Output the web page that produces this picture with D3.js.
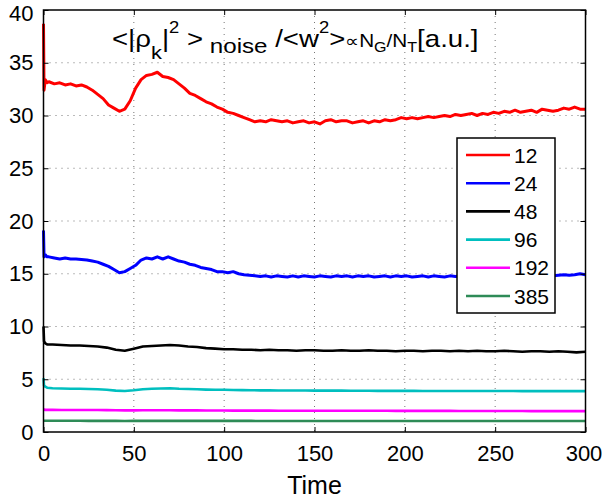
<!DOCTYPE html>
<html>
<head>
<meta charset="utf-8">
<script src="https://cdn.jsdelivr.net/npm/d3@7"></script>
<style>
  body { margin: 0; background: #fff; }
  text { font-family: "Liberation Sans", Arial, sans-serif; }
</style>
</head>
<body>
<script>
// sample times: a few points for the initial spike, then regular steps
const timeFine = [0, 0.3, 1, 2].concat(d3.range(3, 301, 3));
const timeCoarse = [0, 0.3, 1, 2].concat(d3.range(5, 301, 5));

const seriesNames = ["12", "24", "48", "96", "192", "385"];
const seriesColors = ["#ff0000", "#0000ff", "#000000", "#00bfbf", "#ff00ff", "#2e8b57"];

const vals12 = [38.7, 32.4, 33.4, 33.1,
  33.2, 33.0, 33.1, 32.9, 33.0, 32.8, 32.9, 32.7, 32.4, 32.0,
  31.6, 31.0, 30.7, 30.4, 30.6, 31.4, 32.6, 33.4, 33.8, 33.9,
  34.1, 33.7, 33.6, 33.4, 33.0, 32.6, 32.1, 31.9, 31.6, 31.3,
  31.1, 30.8, 30.6, 30.3, 30.2, 30.0, 29.8, 29.6, 29.4, 29.5,
  29.4, 29.6, 29.5, 29.4, 29.5, 29.3, 29.4, 29.5, 29.3, 29.4,
  29.2, 29.5, 29.6, 29.4, 29.5, 29.5, 29.3, 29.4, 29.5, 29.3,
  29.5, 29.4, 29.6, 29.5, 29.6, 29.8, 29.7, 29.8, 29.7, 29.8,
  29.9, 29.8, 29.9, 30.0, 29.9, 30.1, 30.0, 30.1, 30.2, 30.0,
  30.2, 30.1, 30.3, 30.2, 30.4, 30.3, 30.5, 30.3, 30.4, 30.5,
  30.3, 30.6, 30.5, 30.4, 30.5, 30.7, 30.6, 30.8, 30.6, 30.6];

const vals24 = [19.1, 16.6, 16.8, 16.6,
  16.6, 16.5, 16.4, 16.5, 16.4, 16.4, 16.35, 16.3, 16.2, 16.1,
  15.9, 15.7, 15.4, 15.1, 15.2, 15.5, 15.8, 16.3, 16.5, 16.4,
  16.6, 16.4, 16.6, 16.4, 16.2, 16.1, 15.9, 15.8, 15.6, 15.5,
  15.4, 15.2, 15.2, 15.1, 15.2, 15.0, 14.9, 14.85, 14.8, 14.75,
  14.8, 14.7, 14.8, 14.75, 14.7, 14.8, 14.7, 14.8, 14.75, 14.7,
  14.8, 14.75, 14.7, 14.8, 14.75, 14.8, 14.7, 14.8, 14.75, 14.8,
  14.7, 14.75, 14.8, 14.7, 14.8, 14.75, 14.8, 14.7, 14.75, 14.8,
  14.7, 14.8, 14.75, 14.7, 14.8, 14.75, 14.8, 14.7, 14.8, 14.75,
  14.8, 14.75, 14.8, 14.7, 14.8, 14.85, 14.8, 14.75, 14.8, 14.85,
  14.8, 14.9, 14.85, 14.8, 14.85, 14.9, 14.85, 14.9, 15.0, 14.9];

const vals48 = [10.0, 8.6, 8.4, 8.3,
  8.3, 8.25, 8.2, 8.2, 8.15, 8.1, 8.0, 7.8, 7.7, 7.9,
  8.1, 8.15, 8.2, 8.25, 8.2, 8.1, 8.05, 7.95, 7.9, 7.85,
  7.85, 7.8, 7.8, 7.75, 7.8, 7.75, 7.75, 7.7, 7.75, 7.75, 7.7,
  7.7, 7.75, 7.7, 7.7, 7.75, 7.7, 7.7, 7.65, 7.7, 7.7,
  7.65, 7.7, 7.7, 7.65, 7.7, 7.65, 7.7, 7.65, 7.65, 7.7,
  7.65, 7.6, 7.65, 7.65, 7.6, 7.65, 7.6, 7.55, 7.6];

const vals96 = [5.1, 4.4, 4.3, 4.2,
  4.15, 4.13, 4.1, 4.1, 4.07, 4.05, 4.0, 3.92, 3.88, 3.95,
  4.05, 4.1, 4.12, 4.15, 4.1, 4.08, 4.05, 4.02, 4.0, 4.0,
  3.98, 3.97, 3.96, 3.95, 3.95, 3.94, 3.93, 3.93, 3.93, 3.92, 3.92,
  3.92, 3.92, 3.91, 3.91, 3.91, 3.9, 3.9, 3.9, 3.9, 3.9,
  3.89, 3.89, 3.89, 3.89, 3.89, 3.88, 3.88, 3.88, 3.88, 3.88,
  3.88, 3.87, 3.87, 3.87, 3.87, 3.87, 3.87, 3.87, 3.87];

const vals192 = [2.15, 2.12, 2.1, 2.1,
  2.1, 2.09, 2.09, 2.08, 2.08, 2.08, 2.07, 2.06, 2.05, 2.05,
  2.06, 2.06, 2.06, 2.06, 2.05, 2.05, 2.05, 2.04, 2.04, 2.04,
  2.03, 2.03, 2.03, 2.03, 2.03, 2.02, 2.02, 2.02, 2.02, 2.02, 2.02,
  2.02, 2.01, 2.01, 2.01, 2.01, 2.01, 2.01, 2.0, 2.0, 2.0,
  2.0, 2.0, 2.0, 2.0, 1.99, 1.99, 1.99, 1.99, 1.99, 1.99,
  1.99, 1.99, 1.98, 1.98, 1.98, 1.98, 1.98, 1.98, 1.98];

const vals385 = [1.08, 1.07, 1.07, 1.06,
  1.06, 1.06, 1.06, 1.06, 1.05, 1.05, 1.05, 1.05, 1.04, 1.05,
  1.05, 1.05, 1.05, 1.05, 1.05, 1.05, 1.05, 1.05, 1.05, 1.05,
  1.05, 1.05, 1.05, 1.04, 1.04, 1.04, 1.04, 1.04, 1.04, 1.04, 1.04,
  1.04, 1.04, 1.04, 1.04, 1.04, 1.04, 1.04, 1.04, 1.04, 1.04,
  1.04, 1.04, 1.04, 1.04, 1.04, 1.04, 1.04, 1.04, 1.04, 1.04,
  1.04, 1.04, 1.04, 1.04, 1.04, 1.04, 1.04, 1.04, 1.04];

const xTicks = [0, 50, 100, 150, 200, 250, 300];
const yTicks = [0, 5, 10, 15, 20, 25, 30, 35, 40];

const allVals = [vals12, vals24, vals48, vals96, vals192, vals385];
const allTimes = [timeFine, timeFine, timeCoarse, timeCoarse, timeCoarse, timeCoarse];

const W = 602, H = 498;
const plot = { left: 43.5, right: 585.5, top: 10, bottom: 432 };

const x = d3.scaleLinear().domain([0, 300]).range([plot.left, plot.right]);
const y = d3.scaleLinear().domain([0, 40]).range([plot.bottom, plot.top]);

const svg = d3.select("body").append("svg")
  .attr("width", W)
  .attr("height", H);

// dotted grid
const grid = svg.append("g")
  .attr("stroke", "#777")
  .attr("stroke-width", 1)
  .attr("stroke-dasharray", "1,5");
grid.selectAll("line.gx").data(xTicks.slice(1, -1)).join("line")
  .attr("x1", d => x(d)).attr("x2", d => x(d))
  .attr("y1", plot.top).attr("y2", plot.bottom);
grid.selectAll("line.gy").data(yTicks.slice(1, -1)).join("line")
  .attr("y1", d => y(d)).attr("y2", d => y(d))
  .attr("x1", plot.left).attr("x2", plot.right);

// series lines
const line = d3.line()
  .x(d => x(d[0]))
  .y(d => y(d[1]));

allVals.forEach(function (vals, i) {
  const pts = vals.map((v, j) => [allTimes[i][j], v]);
  svg.append("path")
    .datum(pts)
    .attr("fill", "none")
    .attr("stroke", seriesColors[i])
    .attr("stroke-width", i < 2 ? 3 : 2.6)
    .attr("stroke-linejoin", "round")
    .attr("d", line);
});

// axes: ticks inside, on all four sides
const tickLen = 5;
svg.append("g")
  .attr("transform", "translate(0," + plot.bottom + ")")
  .call(d3.axisBottom(x).tickValues(xTicks).tickSizeInner(-tickLen).tickSizeOuter(0).tickPadding(13))
  .call(g => g.selectAll("text").attr("font-size", 22).attr("font-family", "Liberation Sans, Arial"))
  .call(g => g.selectAll(".tick").filter(d => d === 300).select("text").attr("dx", -2));
svg.append("g")
  .attr("transform", "translate(0," + plot.top + ")")
  .call(d3.axisTop(x).tickValues(xTicks).tickSizeInner(-tickLen).tickSizeOuter(0).tickFormat(""));
svg.append("g")
  .attr("transform", "translate(" + plot.left + ",0)")
  .call(d3.axisLeft(y).tickValues(yTicks).tickSizeInner(-tickLen).tickSizeOuter(0).tickPadding(10))
  .call(g => g.selectAll("text").attr("font-size", 22).attr("font-family", "Liberation Sans, Arial"))
  .call(g => g.selectAll(".tick").filter(d => d === 40).select("text").attr("y", 3));
svg.append("g")
  .attr("transform", "translate(" + plot.right + ",0)")
  .call(d3.axisRight(y).tickValues(yTicks).tickSizeInner(-tickLen).tickSizeOuter(0).tickFormat(""));

svg.selectAll(".domain").remove();
svg.selectAll(".tick line").attr("stroke", "#000").attr("stroke-width", 1);
svg.selectAll(".tick text").attr("fill", "#000");

// frame
svg.append("rect")
  .attr("x", plot.left).attr("y", plot.top)
  .attr("width", plot.right - plot.left)
  .attr("height", plot.bottom - plot.top)
  .attr("fill", "none")
  .attr("stroke", "#000")
  .attr("stroke-width", 1.5);

// x label
svg.append("text")
  .attr("x", (plot.left + plot.right) / 2)
  .attr("y", 494)
  .attr("text-anchor", "middle")
  .attr("font-size", 25)
  .text("Time");

// title inside plot
const title = svg.append("text")
  .attr("x", 0)
  .attr("y", 47)
  .attr("transform", "translate(112,0) scale(1.15,1)")
  .attr("font-size", 24);
const parts = [
  ["<|ρ", 24, 0],
  ["k", 19, 12],
  ["|", 24, -12],
  ["2", 16, -14],
  [" >", 24, 14],
  [" noise", 21, 6],
  [" /<w", 24, -6],
  ["2", 16, -14],
  [">", 24, 14],
  ["∝", 17, 0],
  ["N", 18, 0],
  ["G", 14, 5],
  ["/N", 18, -5],
  ["T", 14, 5],
  ["[a.u.]", 24, -5]
];
parts.forEach(function (p) {
  title.append("tspan")
    .attr("font-size", p[1])
    .attr("dy", p[2])
    .text(p[0]);
});

// legend
const legend = svg.append("g");
legend.append("rect")
  .attr("x", 457).attr("y", 138)
  .attr("width", 98).attr("height", 175)
  .attr("fill", "#fff")
  .attr("stroke", "#000")
  .attr("stroke-width", 1.5);
seriesNames.forEach(function (name, i) {
  const ly = 155 + i * 28.2;
  legend.append("line")
    .attr("x1", 466).attr("x2", 510)
    .attr("y1", ly).attr("y2", ly)
    .attr("stroke", seriesColors[i])
    .attr("stroke-width", 2.6);
  legend.append("text")
    .attr("x", 514).attr("y", ly)
    .attr("dy", "0.36em")
    .attr("font-size", 21)
    .text(name);
});
</script>
</body>
</html>
